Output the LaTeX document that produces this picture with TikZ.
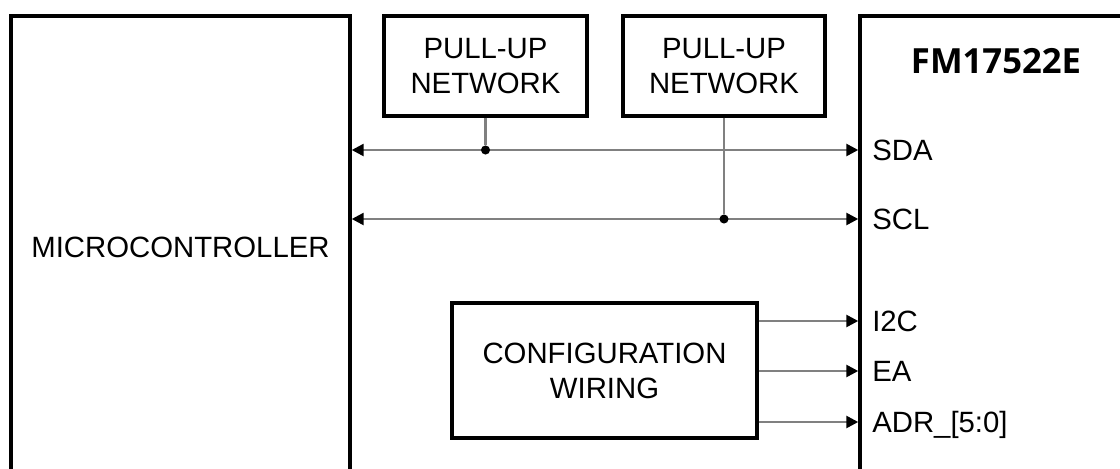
\documentclass[tikz,border=0pt]{standalone}
\usepackage{fontspec}
\setmainfont{Liberation Sans}
\newfontfamily\titlefont{Open Sans}
\usetikzlibrary{arrows.meta,calc}
\definecolor{wiregray}{RGB}{128,128,128}

\begin{document}
\begin{tikzpicture}[x=0.75pt,y=-0.75pt]
  \tikzset{Block/.style={draw=black,line width=2.6pt,align=center,inner sep=0pt,
             font=\fontsize{22}{26.3}\selectfont},
           Wire/.style={draw=wiregray,line width=1.9pt},
           Bus/.style={Wire,{Triangle[length=9pt,width=9pt,color=black]}-{Triangle[length=9pt,width=9pt,color=black]}},
           Sig/.style={Wire,-{Triangle[length=9pt,width=9pt,color=black]}},
           Pin/.style={anchor=west,inner sep=0pt,text height=15.75pt,text depth=0pt,
             font=\fontsize{22}{26.3}\selectfont},
           Dot/.style={circle,fill=black,inner sep=0pt,minimum size=6.8pt}}
  \useasboundingbox (0,0) rectangle (1120,468);
  \clip (0,0) rectangle (1120,468);
  %% blocks
  \node[Block,minimum width=254.25pt,minimum height=346.5pt] (mcu) at (180.5,247) {MICROCONTROLLER};
  \node[Block,minimum width=210pt,minimum height=346.5pt] (fm) at (1000,247) {};
  \node[font={\titlefont\bfseries\fontsize{26}{31}\selectfont}] (title) at (996,61.5) {FM17522E};
  \node[Block,minimum width=152.25pt,minimum height=75pt] (pu1) at (485.5,66) {PULL-UP\\NETWORK};
  \node[Block,minimum width=151.5pt,minimum height=75pt] (pu2) at (724,66) {PULL-UP\\NETWORK};
  \node[Block,minimum width=228.75pt,minimum height=101.25pt] (cfg) at (604.5,370.5) {CONFIGURATION\\WIRING};
  %% pins of FM17522E
  \node[Pin] (sda) at (872,150) {SDA};
  \node[Pin] (scl) at (872,219) {SCL};
  \node[Pin] (i2c) at (872,321) {I2C};
  \node[Pin] (ea)  at (872,371) {EA};
  \node[Pin] (adr) at (872,422) {ADR\_[5:0]};
  %% I2C bus
  \draw[Bus] (mcu.east |- sda.west) -- (fm.west |- sda.west);
  \draw[Bus] (mcu.east |- scl.west) -- (fm.west |- scl.west);
  \node[Dot] (j1) at (pu1.south |- sda.west) {};
  \node[Dot] (j2) at (pu2.south |- scl.west) {};
  \draw[Wire] (pu1.south) -- (j1);
  \draw[Wire] (pu2.south) -- (j2);
  %% configuration lines
  \foreach \p in {i2c,ea,adr}
    \draw[Sig] (cfg.east |- \p.west) -- (fm.west |- \p.west);
\end{tikzpicture}
\end{document}
